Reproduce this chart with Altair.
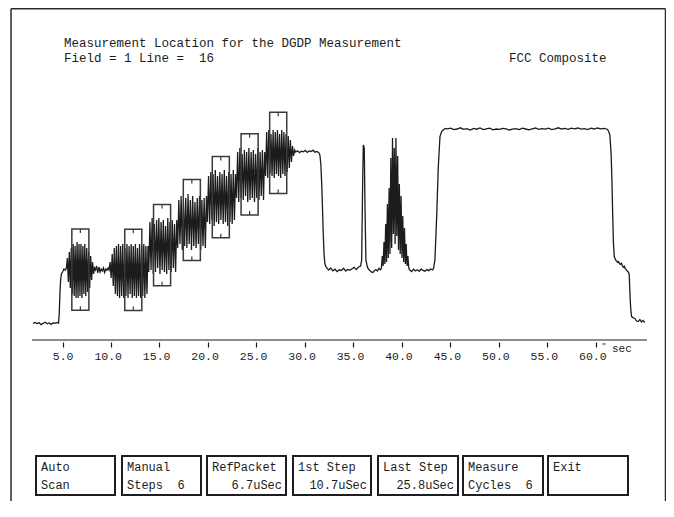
import altair as alt
import numpy as np
import pandas as pd

# ---------------- data ----------------
# time axis in microseconds, level in arbitrary IRE-like units
pre_range = (1.96, 4.45)
pre_v = [0.3, 0.8, 0.2, 0.6, -0.3, 0.4, 0.9, 0.1, 0.5, -0.2, 0.6, 0.3, 0.8]

rise_t = [4.59, 4.66, 4.73, 4.80, 4.88, 5.00, 5.15, 5.30]
rise_v = [0.5, 5, 15, 22, 25, 26, 27.5, 27]

ref_range = (5.40, 8.30)
ref_v = [28, 33, 21, 36, 18, 38, 15, 40, 14, 39, 13, 41, 13, 40, 14, 40, 13, 39,
         15, 40, 14, 38, 16, 36, 18, 34, 22, 31, 25, 28]

gap_range = (8.40, 9.70)
gap_v = [27, 29, 25.5, 28.5, 26, 27.5, 26.5, 28, 25.8, 27.5, 26.8, 28]

step1_range = (9.80, 13.82)
step1_v = [27, 31, 23, 35, 19, 38, 15, 39, 14, 40, 13, 39, 14, 40, 13, 38, 14, 40, 13,
           39, 15, 40, 13, 39, 14, 40, 13, 38, 14, 40, 13, 39, 14, 40, 13, 39, 15, 39]

step2_range = (13.90, 16.78)
step2_v = [26, 51, 27, 53, 25, 50, 26, 52, 28, 53, 25, 51, 27, 52, 26, 49, 25, 53,
           27, 51, 26, 52, 28, 50, 26, 52]

step3_range = (16.88, 19.85)
step3_v = [38, 62, 40, 64, 37, 61, 39, 63, 38, 65, 40, 62, 37, 64, 39, 61, 38, 63,
           40, 64, 37, 62, 39, 63, 38, 64]

step4_range = (19.95, 22.85)
step4_v = [51, 74, 50, 76, 52, 75, 49, 77, 51, 74, 50, 76, 52, 75, 50, 77, 51, 74,
           49, 76, 51, 75, 50, 77, 52, 75]

step5_range = (22.95, 25.85)
step5_v = [63, 86, 61, 88, 63, 85, 62, 87, 64, 86, 61, 88, 62, 86, 63, 87, 61, 85,
           63, 88, 62, 86, 64, 87, 62, 86]

step6_range = (25.95, 28.95)
step6_v = [74, 96, 73, 97, 75, 95, 74, 97, 73, 96, 75, 97, 74, 95, 73, 97, 75, 96,
           74, 95, 76, 94, 78, 92, 81, 89, 84, 87]

flat_range = (29.05, 31.45)
flat_v = [86, 86.6, 85.7, 86.4, 86.1, 86.8, 85.8, 86.5, 86.2, 86.9, 85.9, 86.3, 85.6]

drop_t = [31.55, 31.65, 31.74, 31.82, 31.90, 31.98, 32.07, 32.17, 32.30]
drop_v = [84.5, 80, 70, 58, 45, 35, 30, 28.7, 27.8]

low1_range = (32.45, 35.75)
low1_v = [27, 28, 26.6, 27.4, 26.2, 27.1, 26.8, 27.9, 26.5, 27.3, 26.9, 27.6, 28.3,
          27.2, 28.5, 29]

spike_t = [35.86, 35.96, 36.03, 36.08, 36.13, 36.20, 36.30, 36.44]
spike_v = [32, 68.7, 89.5, 89, 88, 60.5, 32, 28.7]

low2_range = (36.55, 37.80)
low2_v = [27.5, 26.8, 26, 25.8, 26.6, 27.2, 26.5, 27.8, 27.1]

burst_range = (37.90, 40.72)
burst_v = [28, 34, 29, 41, 30, 50, 31, 60, 33, 68, 35, 83, 38, 93, 45, 88, 40, 93,
           44, 84, 37, 70, 35, 64, 33, 54, 31, 48, 30, 40, 29, 34, 28]

low3_range = (40.82, 43.18)
low3_v = [27, 26.2, 27.4, 26.5, 27.1, 26.3, 27.5, 26.8, 26.4, 27.2, 26.7, 27.5, 27.1]

rise2_t = [43.28, 43.42, 43.60, 43.77, 43.94, 44.11, 44.30, 44.50]
rise2_v = [28, 32, 53.7, 78.7, 93.7, 96.2, 97.1, 97.8]

white_range = (44.70, 61.20)
white_v = [97.6, 97.9, 97.2, 97.5, 98.1, 97.3, 97.7, 97.0, 97.8, 97.4,
           98.0, 97.2, 97.6, 97.9, 97.1, 97.5, 97.3, 97.8, 97.6, 97.0,
           97.4, 97.7, 97.2, 97.9, 97.5, 97.1, 97.6, 98.0, 97.3, 97.7,
           97.4, 97.9, 97.2, 97.6, 98.1, 97.5, 97.8, 97.3, 97.9, 97.6,
           98.0, 97.4, 97.7, 97.2, 97.9, 97.5, 98.0, 97.6, 97.8, 97.4]

fall_t = [61.32, 61.47, 61.60, 61.68, 61.76, 61.84, 61.93, 62.06]
fall_v = [96.5, 94.5, 85, 72, 55, 40, 33.5, 32]

shelf_range = (62.16, 63.36)
shelf_v = [31.5, 30.8, 31.2, 30.2, 29.8, 30.4, 29.1, 28.5, 28.9, 27.6, 27.2, 26.5, 26]

drop2_t = [63.46, 63.52, 63.57, 63.63, 63.71, 63.85, 64.05, 64.22, 64.39, 64.56,
           64.74, 64.90, 65.08]
drop2_v = [25, 18, 12, 7, 3.7, 3.2, 2.8, 1.5, 1.2, 2.2, 1.0, 1.8, 0.7]

# measurement boxes (centre time, centre level)
box_t = [6.84, 12.30, 15.27, 18.34, 21.33, 24.30, 27.25]
box_v = [27.2, 27.1, 39.4, 52.0, 63.4, 74.8, 85.6]

tick_values = [5, 10, 15, 20, 25, 30, 35, 40, 45, 50, 55, 60]

NB = "\u00a0"
title_line1 = "Measurement Location for the DGDP Measurement"
title_line2 = "Field = 1 Line =  16"
std_label = "FCC"
fmt_label = "Composite"
unit_label = "sec"

button_line1 = ["Auto", "Manual", "RefPacket", "1st Step", "Last Step", "Measure", "Exit"]
button_line2 = ["Scan", "Steps  6", "6.7uSec", "10.7uSec", "25.8uSec", "Cycles  6", ""]
button_line2_right = [False, False, True, True, True, False, False]

# ---------------- build trace ----------------
def sampled(rng, vals):
    return list(np.linspace(rng[0], rng[1], len(vals))), list(vals)

pieces = [
    sampled(pre_range, pre_v), (rise_t, rise_v), sampled(ref_range, ref_v),
    sampled(gap_range, gap_v), sampled(step1_range, step1_v),
    sampled(step2_range, step2_v), sampled(step3_range, step3_v),
    sampled(step4_range, step4_v), sampled(step5_range, step5_v),
    sampled(step6_range, step6_v), sampled(flat_range, flat_v), (drop_t, drop_v),
    sampled(low1_range, low1_v), (spike_t, spike_v), sampled(low2_range, low2_v),
    sampled(burst_range, burst_v), sampled(low3_range, low3_v), (rise2_t, rise2_v),
    sampled(white_range, white_v), (fall_t, fall_v), sampled(shelf_range, shelf_v),
    (drop2_t, drop2_v),
]
tt, vv = [], []
for a, b in pieces:
    tt += list(a)
    vv += list(b)
trace = pd.DataFrame({"t": tt, "v": vv, "i": range(len(tt))})

BOX_HW = 0.88
BOX_HH = 20.3
TICK_L = 2.0
boxes = pd.DataFrame({"t": box_t, "v": box_v})
boxes["x0"] = boxes.t - BOX_HW
boxes["x1"] = boxes.t + BOX_HW
boxes["y0"] = boxes.v - BOX_HH
boxes["y1"] = boxes.v + BOX_HH
bt = pd.DataFrame({
    "t": box_t + box_t,
    "a": list(boxes.y1) + list(boxes.y0),
    "b": list(boxes.y1 - TICK_L) + list(boxes.y0 + TICK_L),
})

# ---------------- chart ----------------
W, H = 615, 240
XS = alt.Scale(domain=[1.85, 65.3], nice=False, zero=False)
YS = alt.Scale(domain=[-8, 112], nice=False, zero=False)
FONT = "Liberation Mono"
INK = "#1c1c1c"

xaxis = alt.Axis(values=tick_values, format=".1f", domain=False, grid=False, offset=2,
                 tickSize=5, tickColor=INK, tickWidth=1.2, labelFont=FONT,
                 labelFontSize=11.5, labelColor=INK, labelAlign="right", labelOffset=10.5,
                 labelBaseline="middle", labelPadding=9, labelOverlap=False,
                 labelFlush=False, title=None)

line = alt.Chart(trace).mark_line(color=INK, strokeWidth=1.3).encode(
    x=alt.X("t:Q", scale=XS, axis=xaxis),
    y=alt.Y("v:Q", scale=YS, axis=None),
    order="i:Q",
)
rects = alt.Chart(boxes).mark_rect(fillOpacity=0, stroke="#3a3a3a", strokeWidth=1.5).encode(
    x=alt.X("x0:Q", scale=XS), x2="x1", y=alt.Y("y0:Q", scale=YS), y2="y1")
bticks = alt.Chart(bt).mark_rule(color="#3a3a3a", strokeWidth=1.2).encode(
    x=alt.X("t:Q", scale=XS), y=alt.Y("a:Q", scale=YS), y2="b")

dummy = pd.DataFrame({"d": [0]})


def txt(s, x, y, size=12.5, align="left"):
    return alt.Chart(dummy).mark_text(font=FONT, fontSize=size, align=align,
                                      baseline="middle", color=INK).encode(
        x=alt.value(x), y=alt.value(y), text=alt.value(s.replace(" ", NB)))


def rule(x, y, x2=None, y2=None, w=1.5, color="#2a2a2a"):
    enc = {"x": alt.value(x), "y": alt.value(y)}
    if x2 is not None:
        enc["x2"] = alt.value(x2)
    if y2 is not None:
        enc["y2"] = alt.value(y2)
    return alt.Chart(dummy).mark_rule(color=color, strokeWidth=w).encode(**enc)


layers = [line, rects, bticks]
# axis base line
layers.append(rule(0, 240, x2=W, w=1.2, color=INK))
# frame
layers.append(rule(-21, -91.2, x2=633.5, w=1.5))
layers.append(rule(-21, -91.2, y2=401, w=1.5))
layers.append(rule(633.5, -91.2, y2=401, w=1.5))
# titles
layers.append(txt(title_line1, 32, -57, size=12.5))
layers.append(txt(title_line2, 32, -42.5, size=12.5))
layers.append(txt(std_label, 477, -42.5, size=12.5))
layers.append(txt(fmt_label, 507, -42.5, size=12.5))
# unit
layers.append(txt('"', 569.5, 246, size=8))
layers.append(txt(unit_label, 580, 249, size=11))

# buttons
bx0 = [4, 90, 175, 261, 346, 431, 516]
bx1 = [83, 169, 254, 339, 426, 511, 596]
by0, by1 = 356, 395
for i in range(7):
    layers.append(alt.Chart(dummy).mark_rect(fill="white", stroke="#1e1e1e", strokeWidth=2).encode(
        x=alt.value(bx0[i]), x2=alt.value(bx1[i]), y=alt.value(by0), y2=alt.value(by1)))
    layers.append(txt(button_line1[i], bx0[i] + 5, 367, size=12))
    if button_line2[i]:
        if button_line2_right[i]:
            layers.append(txt(button_line2[i], bx1[i] - 4, 385, size=12, align="right"))
        else:
            layers.append(txt(button_line2[i], bx0[i] + 5, 385, size=12))

chart = alt.layer(*layers).properties(
    width=W, height=H,
    autosize=alt.AutoSizeParams(type="none"),
    padding={"left": 24, "top": 92, "right": 19, "bottom": 169},
    background="white",
).configure_view(stroke=None)

chart.save("out.html", embed_options={"renderer": "svg", "actions": False})
